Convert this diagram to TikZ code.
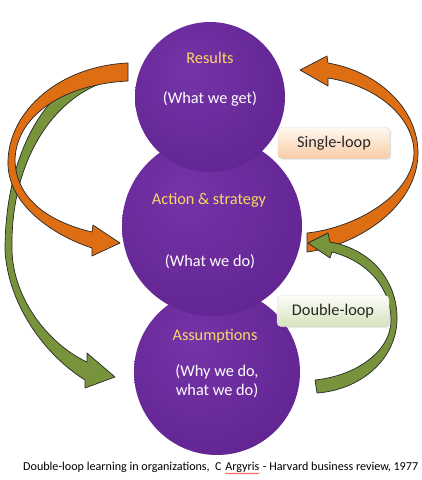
\documentclass[tikz,border=0pt]{standalone}
\usepackage{fontspec}
\setmainfont{Carlito}
\usetikzlibrary{positioning,shadows,decorations.pathmorphing}

\definecolor{orangearrow}{RGB}{221,110,20}
\definecolor{greenarrow}{RGB}{119,147,60}
\definecolor{titlegold}{RGB}{252,214,102}
\definecolor{purplelight}{RGB}{118,52,168}
\definecolor{purplemid}{RGB}{100,38,148}
\definecolor{purpledark}{RGB}{68,22,104}
\definecolor{purpledeep}{RGB}{42,10,68}
\definecolor{peachtop}{RGB}{255,248,240}
\definecolor{peachbot}{RGB}{249,204,165}
\definecolor{greentop}{RGB}{252,253,247}
\definecolor{greenbot}{RGB}{214,228,190}

\pgfdeclareradialshading{purpleball}{\pgfpoint{-8bp}{10bp}}{%
  color(0bp)=(purplelight); color(30bp)=(purplemid);
  color(50bp)=(purpledark); color(64bp)=(purpledeep)}

\tikzset{
  ball/.style={circle, shading=purpleball, inner sep=0pt},
  title/.style={text=titlegold, font=\fontsize{16.3}{19}\selectfont},
  sub/.style={text=white, font=\fontsize{16.3}{19}\selectfont, align=center},
  loopbox/.style={rounded corners=4pt, draw=black!15, minimum width=112pt,
    minimum height=31pt, font=\fontsize{16.3}{19}\selectfont, text=black!85,
    drop shadow={opacity=0.25, shadow xshift=1.2pt, shadow yshift=-1.2pt}},
  blockarrow/.style={draw=black!85, line width=0.7pt, line join=round},
  caption/.style={inner sep=0pt, font=\fontsize{12.1}{14}\selectfont}
}

\begin{document}
\begin{tikzpicture}[x=1pt, y=-1pt]
\useasboundingbox (0,0) rectangle (422,480);

% the three circles
\node (assum) [ball, minimum size=166pt] at (217,372) {};
\node (act) [ball, minimum size=180pt] at (212,226) {};
\node (res) [ball, minimum size=150pt] at (210,97) {};

% circle texts
\node (res-title) [title] at (210,58) {Results};
\node (res-sub) [sub] at (210,99) {(What we get)};
\node (act-title) [title] at (209,200) {Action \& strategy};
\node (act-sub) [sub] at (210,262) {(What we do)};
\node (assum-title) [title] at (215,336) {Assumptions};
\node (assum-sub) [sub] at (217,381) {(Why we do,\\what we do)};

% double loop, left
\fill[greenarrow, blockarrow] (120,68) .. controls (50,70) and (5,150) .. (5,250)
  .. controls (8,305) and (45,355) .. (85,380) -- (85,388) -- (115,377)
  -- (87,353) -- (87,362) .. controls (50,345) and (13,300) .. (12,250)
  .. controls (10,160) and (55,90) .. (120,78) -- cycle;

% single loop, left
\fill[orangearrow, blockarrow] (128,63) .. controls (60,66) and (10,110) .. (8,160)
  .. controls (6,205) and (55,236) .. (92,248) -- (92,256) -- (120,243)
  -- (93,225) -- (92,232) .. controls (50,222) and (16,200) .. (15,160)
  .. controls (16,115) and (65,84) .. (128,81) -- cycle;

% single loop, right
\fill[orangearrow, blockarrow] (328,63) .. controls (380,72) and (418,110) .. (418,153)
  .. controls (418,205) and (360,245) .. (307,252) -- (307,233)
  .. controls (355,228) and (413,195) .. (414,153)
  .. controls (414,118) and (378,86) .. (328,78) -- (328,86) -- (300,70)
  -- (327,56) -- cycle;

% double loop, right
\fill[greenarrow, blockarrow] (330,242) .. controls (375,250) and (398,285) .. (397,320)
  .. controls (396,360) and (360,390) .. (317,393) -- (315,380)
  .. controls (355,376) and (391,352) .. (391,320)
  .. controls (391,290) and (370,262) .. (332,252) -- (330,258) -- (308,243)
  -- (328,233) -- cycle;

% loop labels
\node (single) [loopbox, top color=peachtop, bottom color=peachbot] at (334,143) {Single-loop};
\node (double) [loopbox, top color=greentop, bottom color=greenbot] at (333,311) {Double-loop};

% reference line
\node (cap1) [caption, anchor=base west] at (23,470) {Double-loop learning in organizations,\ \ C};
\node (cap2) [caption, base right=3.2pt of cap1] {Argyris};
\node (cap3) [caption, base right=3.2pt of cap2] {- Harvard business review, 1977};
\draw[red!80, line width=0.5pt, decorate,
  decoration={snake, amplitude=0.6pt, segment length=2.5pt}]
  ([yshift=-1.2pt]cap2.south west) -- ([yshift=-1.2pt]cap2.south east);
\end{tikzpicture}
\end{document}
